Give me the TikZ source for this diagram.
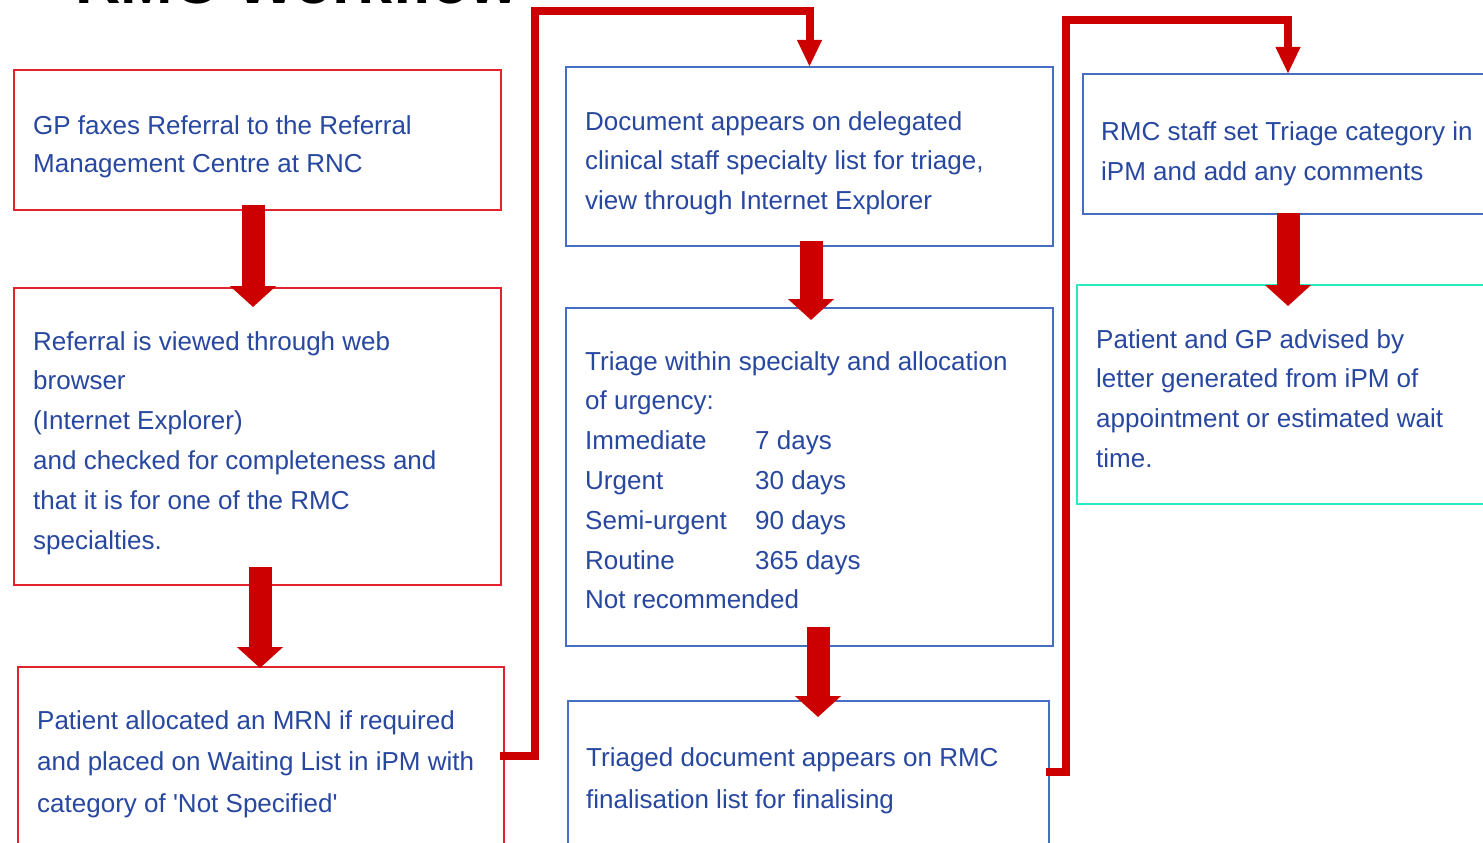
\documentclass[tikz,border=0pt]{standalone}
\usepackage{fontspec}
\setmainfont{Liberation Sans}
\usetikzlibrary{arrows.meta,calc}
\definecolor{txtblue}{RGB}{40,72,160}
\definecolor{boxred}{RGB}{225,35,45}
\definecolor{boxblue}{RGB}{70,110,195}
\definecolor{boxcyan}{RGB}{40,235,195}
\definecolor{arrred}{RGB}{204,0,0}
\begin{document}
\begin{tikzpicture}[x=1pt,y=-1pt,
  boxbase/.style={rectangle, anchor=north west, inner sep=0pt, outer sep=0pt, line width=1.8pt},
  redbox/.style={boxbase, draw=boxred},
  bluebox/.style={boxbase, draw=boxblue},
  cyanbox/.style={boxbase, draw=boxcyan},
  txt/.style={anchor=north west, inner sep=0pt, align=left, text=txtblue, font=\fontsize{26}{#1}\selectfont},
  bigarrow/.style={draw=arrred, line width=23pt, -{Triangle[width=45pt,length=21pt]}},
  link/.style={draw=arrred, line width=8pt, line join=miter, -{Triangle[width=23pt,length=27pt]}}]
\useasboundingbox (0,0) rectangle (1483,843);
\clip (0,0) rectangle (1483,843);
\fill[white] (0,0) rectangle (1483,843);

% title (cut off at the top)
\node[anchor=base west, inner sep=0pt, font=\bfseries\fontsize{63}{63}\selectfont] (title) at (75,4) {RMC Workflow};

% boxes
\node[redbox, minimum width=487pt, minimum height=140pt] (A) at (14,70) {};
\node[redbox, minimum width=487pt, minimum height=297pt] (B) at (14,288) {};
\node[redbox, minimum width=486pt, minimum height=190pt] (C) at (18,667) {};
\node[bluebox, minimum width=487pt, minimum height=179pt] (D) at (566,67) {};
\node[bluebox, minimum width=487pt, minimum height=338pt] (E) at (566,308) {};
\node[bluebox, minimum width=481pt, minimum height=150pt] (F) at (568,701) {};
\node[bluebox, minimum width=410pt, minimum height=140pt] (G) at (1083,74) {};
\node[cyanbox, minimum width=416pt, minimum height=219pt] (H) at (1077,285) {};

% texts
\node[txt=38] (tA) at (33,115) {GP faxes Referral to the Referral\\Management Centre at RNC};
\node[txt=39.8] (tB) at (33,331) {Referral is viewed through web\\browser\\(Internet Explorer)\\and checked for completeness and\\that it is for one of the RMC\\specialties.};
\node[txt=41.5] (tC) at (37,710) {Patient allocated an MRN if required\\and placed on Waiting List in iPM with\\category of \textquotesingle Not Specified\textquotesingle};
\node[txt=39.5] (tD) at (585,111) {Document appears on delegated\\clinical staff specialty list for triage,\\view through Internet Explorer};
\node[txt=39.8] (tE) at (585,351) {Triage within specialty and allocation\\of urgency:\\\makebox[170pt][l]{Immediate}7 days\\\makebox[170pt][l]{Urgent}30 days\\\makebox[170pt][l]{Semi-urgent}90 days\\\makebox[170pt][l]{Routine}365 days\\Not recommended};
\node[txt=42] (tF) at (586,747) {Triaged document appears on RMC\\finalisation list for finalising};
\node[txt=40] (tG) at (1101,121) {RMC staff set Triage category in\\iPM and add any comments};
\node[txt=39.7] (tH) at (1096,329) {Patient and GP advised by\\letter generated from iPM of\\appointment or estimated wait\\time.};

% block arrows
\draw[bigarrow] ($(A.south)+(-4.5,-5)$) -- ($(B.north)+(-4.5,19)$);
\draw[bigarrow] ($(B.south)+(2.5,-18)$) -- ($(C.north)+(-1,1)$);
\draw[bigarrow] ($(D.south)+(1.5,-5)$) -- ($(E.north)+(1.5,12)$);
\draw[bigarrow] ($(E.south)+(8.5,-19)$) -- ($(F.north)+(9.5,16)$);
\draw[bigarrow] ($(G.south)+(0,-1)$) -- ($(H.north)+(3,21)$);

% column links
\coordinate (cd) at (535,11);
\coordinate (fg) at (1066,20);
\draw[link] ($(C.east)+(-4,-6)$) -| (cd) -| (D.north);
\draw[link] ($(F.east)+(-3,-4)$) -| (fg) -| (G.north);
\end{tikzpicture}
\end{document}
